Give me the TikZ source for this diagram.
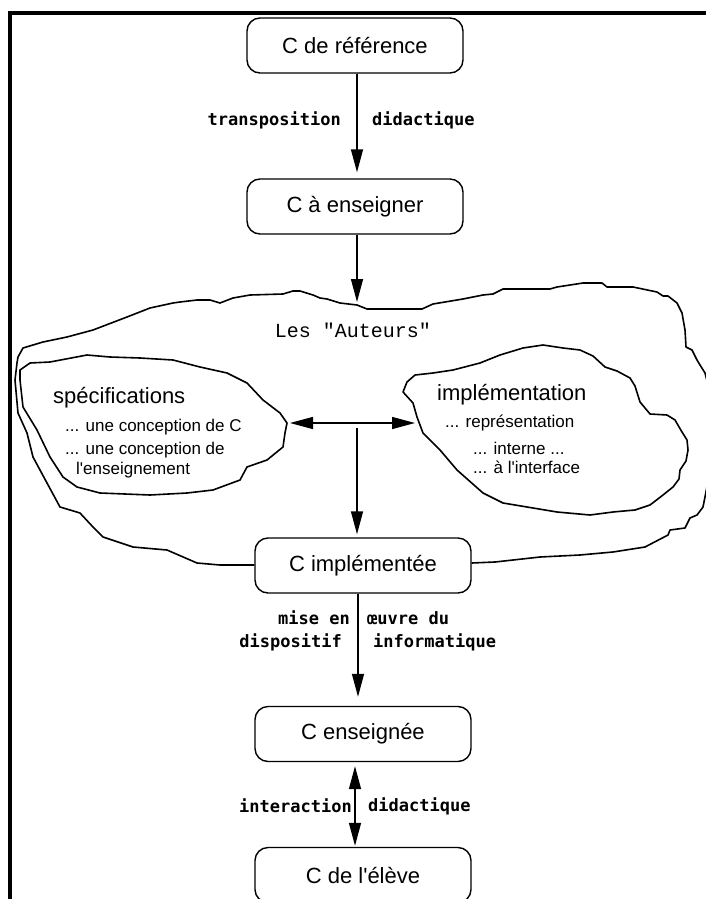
\documentclass[tikz,border=0pt]{standalone}
\usepackage{fontspec}
\setmainfont{Liberation Sans}[Ligatures=TeXOff]
\newfontfamily\lblfont{DejaVu Sans Mono}
\newfontfamily\autfont{Liberation Mono}
\usetikzlibrary{arrows.meta,calc}
\begin{document}
\begin{tikzpicture}[x=1pt,y=-1pt,
  cbox/.style={draw, line width=1.4pt, rounded corners=13pt, minimum width=216pt, minimum height=55pt, inner sep=0pt, font=\fontsize{22}{26}\selectfont},
  arr/.style={line width=1.4pt, -{Triangle[length=23pt,width=12pt]}},
  darr/.style={line width=1.4pt, {Triangle[length=23pt,width=12pt]}-{Triangle[length=23pt,width=12pt]}},
  cloudline/.style={line width=1.6pt, line join=round},
  headtxt/.style={inner sep=0pt, anchor=west, font=\fontsize{22}{26}\selectfont},
  subtxt/.style={inner sep=0pt, anchor=west, font=\fontsize{17}{20}\selectfont},
  lbl/.style={inner sep=0pt, font=\lblfont\bfseries\fontsize{17}{20}\selectfont}]
\useasboundingbox (0,0) rectangle (705,899);

% frame
\draw[line width=4pt] (9.5,915) -- (9.5,13.5) -- (720,13.5);

% boxes
\node[cbox] (b1) at (355,45.5) {C de référence};
\node[cbox] (b2) at (355,206.5) {C à enseigner};
\node[cbox] (b3) at (363,565.5) {C implémentée};
\node[cbox] (b4) at (363,734) {C enseignée};
\node[cbox] (b5) at (363,875) {C de l'élève};

% outer cloud (Les "Auteurs")
\draw[cloudline] (b3.west |- 0,565) -- (220,565) -- (197,563) -- (167,550) -- (133,547) -- (103,537) -- (93,527) -- (80,513) -- (60,507) -- (47,483) -- (33,457) -- (27,433) -- (18,413) -- (15,380) -- (17,363) -- (18,357) -- (23,348) -- (43,342) -- (67,337) -- (93,330) -- (127,317) -- (150,308) -- (173,303) -- (180,302) -- (197,300) -- (210,300) -- (220,303) -- (233,298) -- (250,295) -- (283,294) -- (293,291) -- (300,291) -- (313,295) -- (320,298) -- (327,299) -- (340,303) -- (357,305) -- (367,309) -- (390,309) -- (422,309) -- (433,304) -- (463,299) -- (483,295) -- (493,294) -- (503,289) -- (550,289) -- (557,287) -- (583,283) -- (597,283) -- (602,283) -- (607,287) -- (633,287) -- (657,292) -- (663,296) -- (668,296) -- (677,303) -- (682,313) -- (685,330) -- (686,347) -- (692,350) -- (697,360) -- (700,365) -- (705,373) -- (712,400) -- (712,460) -- (705,497) -- (703,507) -- (697,515) -- (690,518) -- (685,528) -- (670,530) -- (668,535) -- (645,547) -- (613,552) -- (580,555) -- (540,557) -- (495,562) -- (b3.east |- 0,563);

% left inner cloud
\draw[cloudline] (20,370) -- (30,363) -- (50,362) -- (87,355) -- (110,357) -- (140,358) -- (173,360) -- (200,367) -- (227,373) -- (247,383) -- (263,400) -- (280,413) -- (287,423) -- (285,433) -- (283,447) -- (267,460) -- (247,467) -- (240,480) -- (213,490) -- (187,493) -- (150,495) -- (100,493) -- (77,487) -- (63,477) -- (50,457) -- (37,430) -- (23,407) -- (20,380) -- cycle;

% right inner cloud
\draw[cloudline] (403,392) -- (407,382) -- (415,375) -- (433,373) -- (453,370) -- (480,363) -- (500,355) -- (523,348) -- (543,345) -- (563,348) -- (580,350) -- (593,356) -- (605,367) -- (617,371) -- (630,378) -- (635,386) -- (640,402) -- (650,414) -- (667,415) -- (675,420) -- (682,432) -- (687,440) -- (688,450) -- (686,461) -- (680,470) -- (679,479) -- (673,487) -- (663,495) -- (650,505) -- (635,510) -- (613,512) -- (590,515) -- (557,512) -- (533,508) -- (503,503) -- (483,493) -- (457,470) -- (440,450) -- (423,433) -- (417,417) -- (413,403) -- cycle;

% cloud texts
\node[inner sep=0pt, font=\autfont\fontsize{20}{24}\selectfont] (aut) at (353,330) {Les "Auteurs"};
\node[headtxt] (spec) at (53,398) {spécifications};
\node[subtxt] (s1) at (65,427) {... une conception de C};
\node[subtxt] (s2) at (65,450) {... une conception de};
\node[subtxt] (s3) at (76,470) {l'enseignement};
\node[headtxt] (impl) at (437,395) {implémentation};
\node[subtxt] (i1) at (445,423) {... représentation};
\node[subtxt] (i2) at (473,448) {... interne ...};
\node[subtxt] (i3) at (473,467) {... à l'interface};

% connectors
\coordinate (ctop) at (357,302);
\coordinate (hl) at (290,423);
\coordinate (hr) at (415,423);
\coordinate (vtop) at (357,428);
\draw[arr, shorten >=6pt] ([xshift=2pt]b1.south) -- ([xshift=2pt]b2.north);
\draw[arr] ([xshift=2pt]b2.south) -- (ctop);
\draw[darr] (hl) -- (hr);
\draw[arr, shorten >=3pt] (vtop) -- ([xshift=-6pt]b3.north);
\draw[arr, shorten >=9pt] ([xshift=-5pt]b3.south) -- ([xshift=-5pt]b4.north);
\draw[darr, shorten <=4pt, shorten >=1pt] ([xshift=-8pt]b4.south) -- ([xshift=-8pt]b5.north);

% labels
\node[lbl, anchor=east] (t1) at (341,120) {transposition};
\node[lbl, anchor=west] (t2) at (372,120) {didactique};
\node[lbl, anchor=east] (m1) at (350,618) {mise en};
\node[lbl, anchor=east] (m2) at (342,642) {dispositif};
\node[lbl, anchor=west] (m3) at (367,618) {œuvre du};
\node[lbl, anchor=west] (m4) at (373,642) {informatique};
\node[lbl, anchor=east] (d1) at (352,806) {interaction};
\node[lbl, anchor=west] (d2) at (368,806) {didactique};
\end{tikzpicture}
\end{document}
